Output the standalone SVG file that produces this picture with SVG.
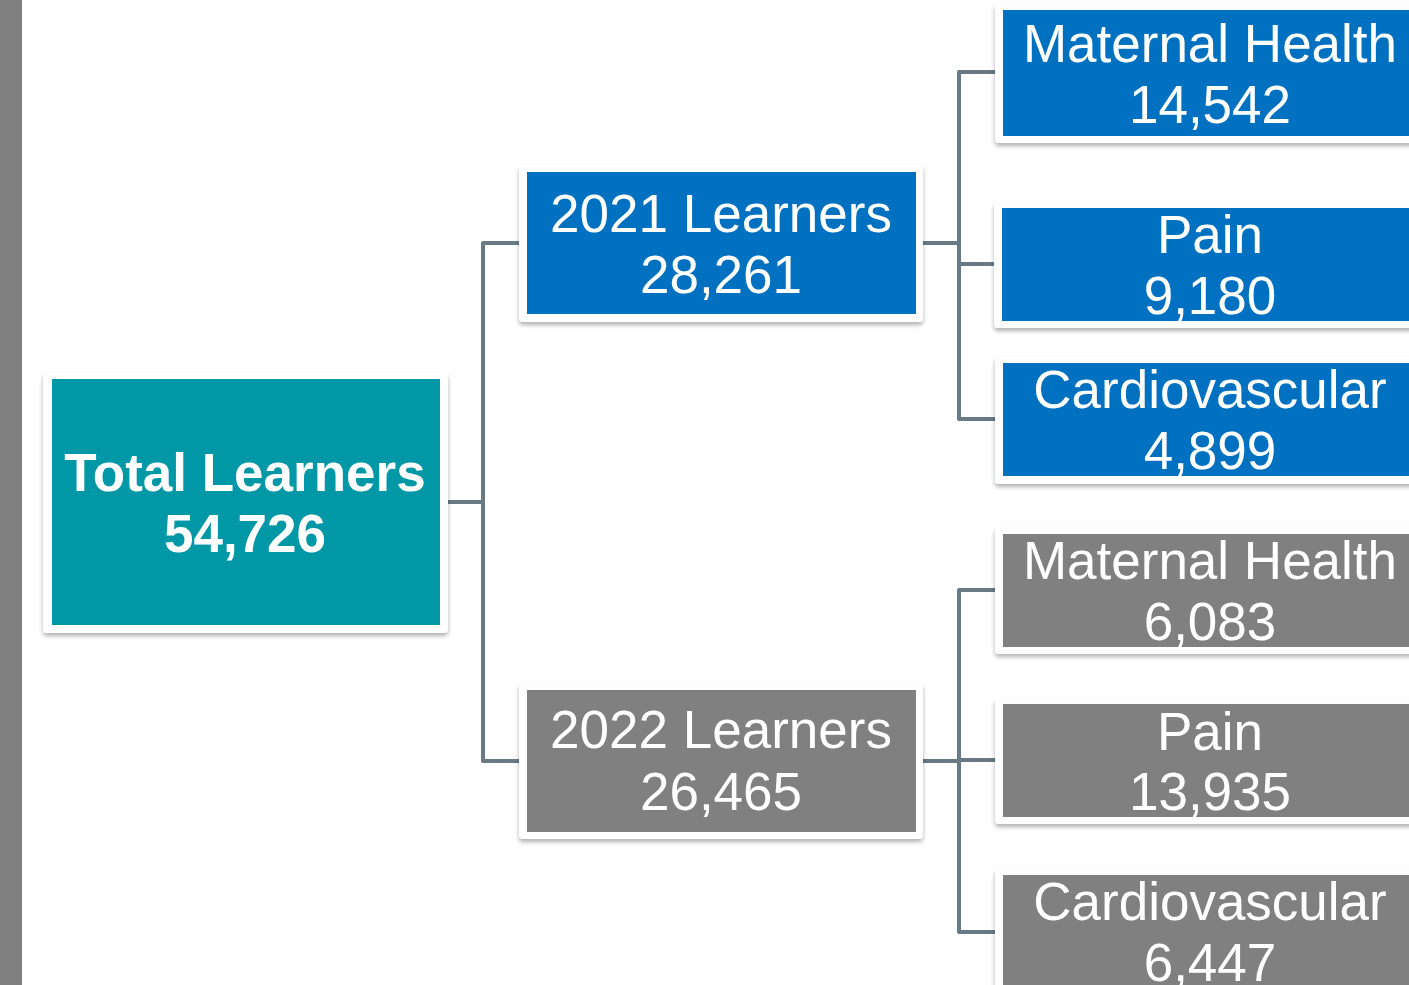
<svg xmlns="http://www.w3.org/2000/svg" width="1409" height="985" viewBox="0 0 1409 985">
  <style>
    .frame { fill: #ffffff; filter: url(#shadow); }
    .teal { fill: #0097A7; }
    .blue { fill: #0070C0; }
    .gray { fill: #808080; }
    .label { font-family: "Liberation Sans", Arial, sans-serif; font-size: 53px; fill: #ffffff; text-anchor: middle; }
    .bold { font-weight: bold; }
    .link { fill: none; stroke: #677A85; stroke-width: 4; stroke-linejoin: round; }
  </style>
  <defs>
    <filter id="shadow" x="-10%" y="-10%" width="120%" height="130%">
      <feDropShadow dx="0" dy="3" stdDeviation="2" flood-color="#000000" flood-opacity="0.3"/>
    </filter>
  </defs>

  <rect width="1409" height="985" fill="#ffffff"/>
  <!-- left side band -->
  <rect x="0" y="0" width="22" height="985" fill="#808080"/>

  <!-- connectors -->
  <g id="connectors">
    <path class="link" d="M448 502 H483 M519 243 H483 V761 H519"/>
    <path class="link" d="M923 243 H959 M995 72 H959 V419 H995 M959 264 H995"/>
    <path class="link" d="M923 761 H959 M995 590 H959 V932 H995 M959 760 H995"/>
  </g>

  <g id="total">
    <rect class="frame" x="43" y="373" width="405" height="260" rx="4"/>
    <rect class="teal" x="52" y="379" width="388" height="246"/>
    <text class="label bold" x="245" y="491">Total Learners</text>
    <text class="label bold" x="245" y="552">54,726</text>
  </g>

  <g id="y2021">
    <rect class="frame" x="519" y="165" width="404" height="157" rx="4"/>
    <rect class="blue" x="527" y="172" width="389" height="142"/>
    <text class="label" x="721" y="232">2021 Learners</text>
    <text class="label" x="721" y="293">28,261</text>
  </g>

  <g id="y2022">
    <rect class="frame" x="519" y="683" width="404" height="156" rx="4"/>
    <rect class="gray" x="527" y="690" width="389" height="142"/>
    <text class="label" x="721" y="748">2022 Learners</text>
    <text class="label" x="721" y="810">26,465</text>
  </g>

  <g id="maternal2021">
    <rect class="frame" x="995" y="3" width="430" height="140" rx="4"/>
    <rect class="blue" x="1003" y="10" width="420" height="126"/>
    <text class="label" x="1210" y="62">Maternal Health</text>
    <text class="label" x="1210" y="123">14,542</text>
  </g>

  <g id="pain2021">
    <rect class="frame" x="994" y="202" width="430" height="126" rx="4"/>
    <rect class="blue" x="1002" y="208" width="420" height="113"/>
    <text class="label" x="1210" y="253">Pain</text>
    <text class="label" x="1210" y="314">9,180</text>
  </g>

  <g id="cardio2021">
    <rect class="frame" x="995" y="357" width="430" height="127" rx="4"/>
    <rect class="blue" x="1003" y="363" width="420" height="113"/>
    <text class="label" x="1210" y="408">Cardiovascular</text>
    <text class="label" x="1210" y="469">4,899</text>
  </g>

  <g id="maternal2022">
    <rect class="frame" x="995" y="527" width="430" height="127" rx="4"/>
    <rect class="gray" x="1003" y="534" width="420" height="113"/>
    <text class="label" x="1210" y="579">Maternal Health</text>
    <text class="label" x="1210" y="640">6,083</text>
  </g>

  <g id="pain2022">
    <rect class="frame" x="995" y="698" width="430" height="126" rx="4"/>
    <rect class="gray" x="1003" y="704" width="420" height="113"/>
    <text class="label" x="1210" y="750">Pain</text>
    <text class="label" x="1210" y="810">13,935</text>
  </g>

  <g id="cardio2022">
    <rect class="frame" x="995" y="868" width="430" height="140" rx="4"/>
    <rect class="gray" x="1003" y="875" width="420" height="130"/>
    <text class="label" x="1210" y="920">Cardiovascular</text>
    <text class="label" x="1210" y="981">6,447</text>
  </g>
</svg>
